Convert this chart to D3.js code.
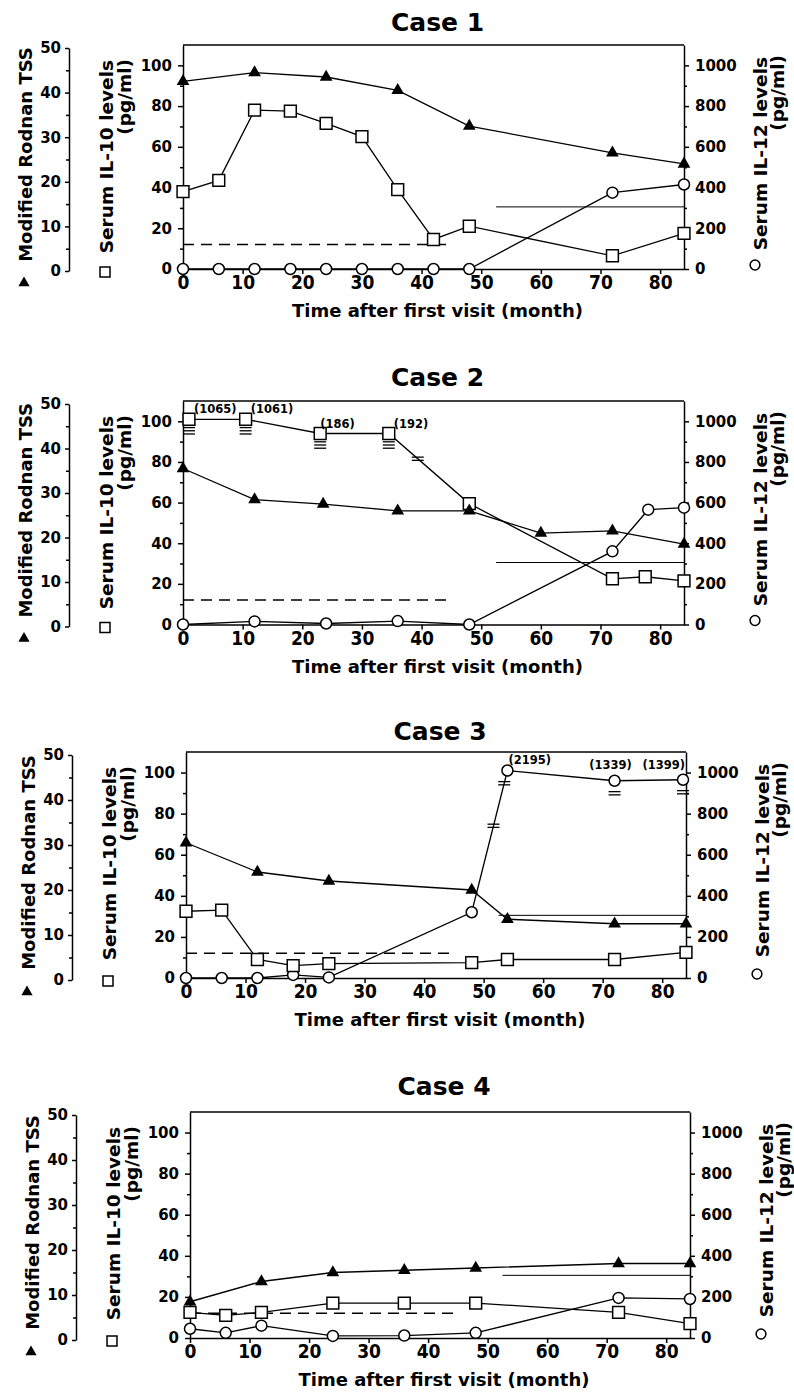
<!DOCTYPE html>
<html>
<head>
<meta charset="utf-8">
<script src="https://cdn.jsdelivr.net/npm/d3@7"></script>
<style>
  body { margin: 0; background: #fff; }
  svg text { font-family: "DejaVu Sans", sans-serif; font-weight: bold; fill: #000; }
</style>
</head>
<body>
<svg id="chart" width="794" height="1392"></svg>
<script>
// ---- tick labels ----
var xTicks = [0, 10, 20, 30, 40, 50, 60, 70, 80];
var il10Ticks = [0, 20, 40, 60, 80, 100];
var il10Minor = [10, 30, 50, 70, 90];
var il12Ticks = [0, 200, 400, 600, 800, 1000];
var il12Minor = [100, 300, 500, 700, 900];
var tssTicks = [0, 10, 20, 30, 40, 50];
var tssMinor = [5, 15, 25, 35, 45];
var caseTitles = ["Case 1", "Case 2", "Case 3", "Case 4"];

// normal-range lines (IL-10 dashed, IL-12 solid)
var il10Cutoff = 12, il10CutMonths = [0, 45];
var il12Cutoff = 305, il12CutMonths = [52.5, 84];

// ---- Case 1 ----
var c1TssMonths = [0, 12, 24, 36, 48, 72, 84];
var c1Tss = [42.5, 44.5, 43.5, 40.5, 32.5, 26.5, 24];
var c1Il10Months = [0, 6, 12, 18, 24, 30, 36, 42, 48, 72, 84];
var c1Il10 = [38, 43.5, 78, 77.5, 71.5, 65, 39, 14.5, 21, 6.5, 17.5];
var c1Il12Months = [0, 6, 12, 18, 24, 30, 36, 42, 48, 72, 84];
var c1Il12 = [0, 0, 0, 0, 0, 0, 0, 0, 0, 375, 415];

// ---- Case 2 ----
var c2TssMonths = [0, 12, 23.5, 36, 48, 60, 72, 84];
var c2Tss = [35.5, 28.5, 27.5, 26, 26, 21, 21.5, 18.5];
var c2Il10Months = [1, 10.5, 23, 34.5, 48, 72, 77.5, 84];
var c2Il10 = [101, 101, 94, 94, 59.5, 22.5, 23.5, 21.5];
var c2Il10Notes = ["(1065)", "(1061)", "(186)", "(192)", "", "", "", ""];
var c2Il10Breaks = [3, 3, 3, 3, 0, 0, 0, 0];
var c2Il10SegBreaks = [[3, 0.36]];
var c2Il12Months = [0, 12, 24, 36, 48, 72, 78, 84];
var c2Il12 = [0, 15, 5, 17, 0, 360, 565, 575];

// ---- Case 3 ----
var c3TssMonths = [0, 12, 24, 48, 54, 72, 84];
var c3Tss = [30.5, 24, 22, 20, 13.5, 12.5, 12.5];
var c3Il10Months = [0, 6, 12, 18, 24, 48, 54, 72, 84];
var c3Il10 = [32.5, 33, 9, 6, 7, 7.5, 9, 9, 12.5];
var c3Il12Months = [0, 6, 12, 18, 24, 48, 54, 72, 83.5];
var c3Il12 = [0, 0, 0, 15, 3, 320, 1010, 960, 965];
var c3Il12Notes = ["", "", "", "", "", "", "(2195)", "(1339)", "(1399)"];
var c3Il12Breaks = [0, 0, 0, 0, 0, 0, 0, 2, 2];
var c3Il12SegBreaks = [[5, 0.61], [5, 0.91]];

// ---- Case 4 ----
var c4TssMonths = [0, 12, 24, 36, 48, 72, 84];
var c4Tss = [8.5, 13, 15, 15.5, 16, 17, 17];
var c4Il10Months = [0, 6, 12, 24, 36, 48, 72, 84];
var c4Il10 = [12.5, 11, 12.5, 17, 17, 17, 12.5, 7];
var c4Il12Months = [0, 6, 12, 24, 36, 48, 72, 84];
var c4Il12 = [45, 25, 60, 10, 12, 25, 195, 190];

var svg = d3.select("#chart");

var panels = [
  { title: caseTitles[0], left: 183, right: 684, top: 45, zero: 269, titleY: 31,
    tssM: c1TssMonths, tss: c1Tss, il10M: c1Il10Months, il10: c1Il10, il12M: c1Il12Months, il12: c1Il12 },
  { title: caseTitles[1], left: 183, right: 684, top: 401, zero: 624.5, titleY: 386,
    tssM: c2TssMonths, tss: c2Tss, il10M: c2Il10Months, il10: c2Il10, il12M: c2Il12Months, il12: c2Il12,
    il10Notes: c2Il10Notes, il10Breaks: c2Il10Breaks, il10Seg: c2Il10SegBreaks,
    noteAnchor: ["start", "start", "start", "start"], noteDx: [5, 5, 0, 5], noteDy: [-6, -6, -6, -6] },
  { title: caseTitles[2], left: 186, right: 686, top: 752, zero: 978, titleY: 740,
    tssM: c3TssMonths, tss: c3Tss, il10M: c3Il10Months, il10: c3Il10, il12M: c3Il12Months, il12: c3Il12,
    il12Notes: c3Il12Notes, il12Breaks: c3Il12Breaks, il12Seg: c3Il12SegBreaks,
    noteAnchor: ["start", "middle", "end"], noteDx: [1, -4, 2], noteDy: [-6, -12, -11] },
  { title: caseTitles[3], left: 190, right: 690, top: 1112, zero: 1338, titleY: 1095,
    tssM: c4TssMonths, tss: c4Tss, il10M: c4Il10Months, il10: c4Il10, il12M: c4Il12Months, il12: c4Il12 }
];

panels.forEach(drawPanel);

function styleAxis(a, size, family) {
  a.attr("font-family", null).attr("font-size", null);
  a.selectAll("path, line").attr("stroke", "#000").attr("stroke-width", 1.5);
  a.selectAll("text")
    .style("font-family", family)
    .style("font-size", size + "px")
    .style("font-weight", "bold");
}

function breakMark(g, cx, cy, n) {
  for (var i = 0; i < n; i++) {
    var yy = cy + (i - (n - 1) / 2) * 3.2;
    g.append("line")
      .attr("x1", cx - 6).attr("x2", cx + 6)
      .attr("y1", yy).attr("y2", yy)
      .attr("stroke", "#000").attr("stroke-width", 1.3);
  }
}

function drawPanel(p) {
  var x = d3.scaleLinear().domain([0, 84]).range([p.left, p.right]);
  var y10 = d3.scaleLinear().domain([0, 110]).range([p.zero, p.top]);
  var y12 = d3.scaleLinear().domain([0, 1100]).range([p.zero, p.top]);
  var yT = d3.scaleLinear().domain([0, 50]).range([p.zero + 2, p.top + 3]);
  var rodX = p.left - 114;
  var xc = (p.left + p.right) / 2 + 4;
  var fmt = d3.format("d");

  var g = svg.append("g");

  g.append("text")
    .attr("x", xc)
    .attr("y", p.titleY)
    .attr("text-anchor", "middle")
    .style("font-size", "25px")
    .text(p.title);

  // top of the frame
  g.append("line")
    .attr("x1", p.left).attr("x2", p.right)
    .attr("y1", p.top).attr("y2", p.top)
    .attr("stroke", "#000").attr("stroke-width", 1.6);

  // x axis
  var xa = g.append("g")
    .attr("transform", "translate(0," + p.zero + ")")
    .call(d3.axisBottom(x).tickValues(xTicks).tickFormat(fmt).tickSize(5).tickSizeOuter(0).tickPadding(2));
  styleAxis(xa, 19, "'Liberation Sans Narrow', 'DejaVu Sans Condensed', sans-serif");

  // IL-10 axis (left)
  var la = g.append("g")
    .attr("transform", "translate(" + p.left + ",0)")
    .call(d3.axisLeft(y10).tickValues(il10Ticks).tickFormat(fmt).tickSize(5).tickSizeOuter(0).tickPadding(6));
  styleAxis(la, 15, "'DejaVu Sans', sans-serif");
  var lm = g.append("g")
    .attr("transform", "translate(" + p.left + ",0)")
    .call(d3.axisLeft(y10).tickValues(il10Minor).tickSize(3).tickFormat(""));
  lm.select(".domain").remove();
  styleAxis(lm, 15, "sans-serif");

  // IL-12 axis (right)
  var ra = g.append("g")
    .attr("transform", "translate(" + p.right + ",0)")
    .call(d3.axisRight(y12).tickValues(il12Ticks).tickFormat(fmt).tickSize(5).tickSizeOuter(0).tickPadding(6));
  styleAxis(ra, 15, "'DejaVu Sans', sans-serif");
  var rm = g.append("g")
    .attr("transform", "translate(" + p.right + ",0)")
    .call(d3.axisRight(y12).tickValues(il12Minor).tickSize(3).tickFormat(""));
  rm.select(".domain").remove();
  styleAxis(rm, 15, "sans-serif");

  // Rodnan TSS axis (far left)
  var ta = g.append("g")
    .attr("transform", "translate(" + rodX + ",0)")
    .call(d3.axisLeft(yT).tickValues(tssTicks).tickFormat(fmt).tickSize(4).tickSizeOuter(0).tickPadding(4));
  styleAxis(ta, 15, "'DejaVu Sans', sans-serif");
  var tm = g.append("g")
    .attr("transform", "translate(" + rodX + ",0)")
    .call(d3.axisLeft(yT).tickValues(tssMinor).tickSize(3).tickFormat(""));
  tm.select(".domain").remove();
  styleAxis(tm, 15, "sans-serif");

  // axis titles
  g.append("text")
    .attr("text-anchor", "middle")
    .attr("x", xc)
    .attr("y", p.zero + 48)
    .style("font-size", "18px")
    .text("Time after first visit (month)");

  g.append("text")
    .attr("text-anchor", "middle")
    .attr("transform", "translate(" + (rodX - 37) + "," + ((p.top + p.zero) / 2 - 2.5) + ") rotate(-90)")
    .style("font-size", "18px")
    .text("Modified Rodnan TSS");
  g.append("path")
    .attr("d", d3.symbol(d3.symbolTriangle, 55)())
    .attr("transform", "translate(" + (rodX - 45) + "," + (p.zero + 14) + ")")
    .attr("fill", "#000");

  g.append("text")
    .attr("text-anchor", "end")
    .attr("transform", "translate(" + (p.left - 70) + "," + (p.top + 15) + ") rotate(-90)")
    .style("font-size", "18.5px")
    .text("Serum IL-10 levels");
  g.append("text")
    .attr("text-anchor", "end")
    .attr("transform", "translate(" + (p.left - 52) + "," + (p.top + 14) + ") rotate(-90)")
    .style("font-size", "18.5px")
    .text("(pg/ml)");
  g.append("path")
    .attr("d", d3.symbol(d3.symbolSquare, 100)())
    .attr("transform", "translate(" + (p.left - 78) + "," + (p.zero + 3) + ")")
    .attr("fill", "#fff").attr("stroke", "#000").attr("stroke-width", 1.5);

  g.append("text")
    .attr("text-anchor", "end")
    .attr("transform", "translate(" + (p.right + 83) + "," + (p.top + 12) + ") rotate(-90)")
    .style("font-size", "18.5px")
    .text("Serum IL-12 levels");
  g.append("text")
    .attr("text-anchor", "end")
    .attr("transform", "translate(" + (p.right + 100) + "," + (p.top + 10) + ") rotate(-90)")
    .style("font-size", "18.5px")
    .text("(pg/ml)");
  g.append("path")
    .attr("d", d3.symbol(d3.symbolCircle, 75)())
    .attr("transform", "translate(" + (p.right + 71) + "," + (p.zero - 4) + ")")
    .attr("fill", "#fff").attr("stroke", "#000").attr("stroke-width", 1.5);

  // normal-range reference lines
  g.append("line")
    .attr("x1", x(il10CutMonths[0])).attr("x2", x(il10CutMonths[1]))
    .attr("y1", y10(il10Cutoff)).attr("y2", y10(il10Cutoff))
    .attr("stroke", "#000").attr("stroke-width", 1.5)
    .attr("stroke-dasharray", "11,7");
  g.append("line")
    .attr("x1", x(il12CutMonths[0])).attr("x2", x(il12CutMonths[1]))
    .attr("y1", y12(il12Cutoff)).attr("y2", y12(il12Cutoff))
    .attr("stroke", "#000").attr("stroke-width", 1);

  var il10Pts = d3.zip(p.il10M, p.il10);
  var il12Pts = d3.zip(p.il12M, p.il12);
  var tssPts = d3.zip(p.tssM, p.tss);

  function addLine(pts, ys) {
    g.append("path")
      .datum(pts)
      .attr("fill", "none")
      .attr("stroke", "#000")
      .attr("stroke-width", 1.3)
      .attr("d", d3.line().x(function (d) { return x(d[0]); }).y(function (d) { return ys(d[1]); }));
  }
  addLine(il12Pts, y12);
  addLine(il10Pts, y10);
  addLine(tssPts, yT);

  // axis-break marks on line segments
  function segBreaks(pts, ys, list) {
    (list || []).forEach(function (b) {
      var a = pts[b[0]], c = pts[b[0] + 1];
      var cx = x(a[0]) + (x(c[0]) - x(a[0])) * b[1];
      var cy = ys(a[1]) + (ys(c[1]) - ys(a[1])) * b[1];
      breakMark(g, cx, cy, 2);
    });
  }
  segBreaks(il10Pts, y10, p.il10Seg);
  segBreaks(il12Pts, y12, p.il12Seg);

  // break marks under off-scale points
  function pointBreaks(pts, ys, counts) {
    (counts || []).forEach(function (n, i) {
      if (n > 0) breakMark(g, x(pts[i][0]), ys(pts[i][1]) + (n === 3 ? 11.5 : 12.5), n);
    });
  }
  pointBreaks(il10Pts, y10, p.il10Breaks);
  pointBreaks(il12Pts, y12, p.il12Breaks);

  // markers
  g.selectAll(null).data(il12Pts).enter().append("path")
    .attr("d", d3.symbol(d3.symbolCircle, 95)())
    .attr("transform", function (d) { return "translate(" + x(d[0]) + "," + y12(d[1]) + ")"; })
    .attr("fill", "#fff").attr("stroke", "#000").attr("stroke-width", 1.5);
  g.selectAll(null).data(il10Pts).enter().append("path")
    .attr("d", d3.symbol(d3.symbolSquare, 140)())
    .attr("transform", function (d) { return "translate(" + x(d[0]) + "," + y10(d[1]) + ")"; })
    .attr("fill", "#fff").attr("stroke", "#000").attr("stroke-width", 1.5);
  g.selectAll(null).data(tssPts).enter().append("path")
    .attr("d", d3.symbol(d3.symbolTriangle, 70)())
    .attr("transform", function (d) { return "translate(" + x(d[0]) + "," + yT(d[1]) + ")"; })
    .attr("fill", "#000");

  // real values of off-scale points
  function notes(pts, ys, list) {
    if (!list) return;
    var k = 0;
    list.forEach(function (t, i) {
      if (!t) return;
      g.append("text")
        .attr("x", x(pts[i][0]) + p.noteDx[k])
        .attr("y", ys(pts[i][1]) + p.noteDy[k])
        .attr("text-anchor", p.noteAnchor[k])
        .style("font-size", "11.5px")
        .text(t);
      k++;
    });
  }
  notes(il10Pts, y10, p.il10Notes);
  notes(il12Pts, y12, p.il12Notes);
}
</script>
</body>
</html>
